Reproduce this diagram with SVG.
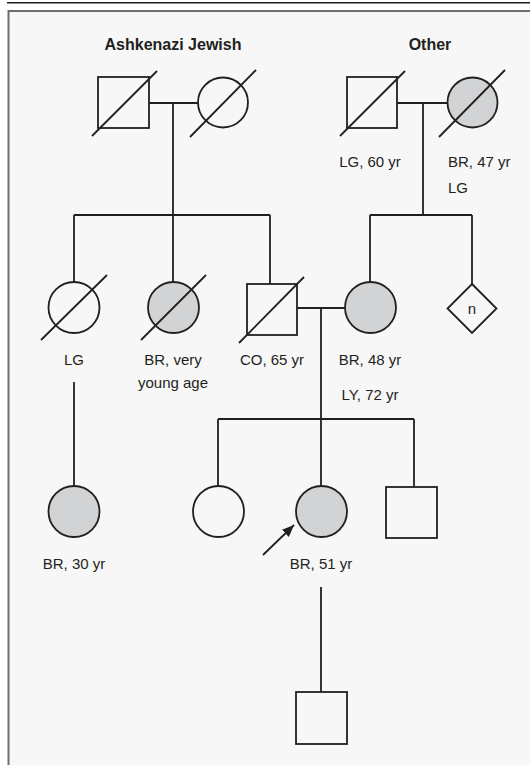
<svg xmlns="http://www.w3.org/2000/svg" width="530" height="765" viewBox="0 0 530 765">
<style>
.s{fill:none;stroke:#231f20;stroke-width:1.8}
.o{fill:#f7f7f7;stroke:#231f20;stroke-width:1.8}
.a{fill:#d1d3d4;stroke:#231f20;stroke-width:1.8}
.d{stroke:#231f20;stroke-width:1.8}
text{font-family:"Liberation Sans",Arial,sans-serif;font-size:15px;fill:#231f20}
.h{font-weight:bold;font-size:16px}
</style>
<defs>
<marker id="ah" viewBox="0 0 12 10" refX="12" refY="5" markerWidth="12" markerHeight="10" markerUnits="userSpaceOnUse" orient="auto">
<path d="M0,0 L12,5 L0,10 Z" fill="#231f20"/>
</marker>
</defs>
<rect width="530" height="765" fill="#ffffff"/>
<line x1="7" y1="2.8" x2="530" y2="2.8" stroke="#231f20" stroke-width="1.5"/>
<rect x="8.5" y="11" width="530" height="770" fill="#f7f7f7" stroke="#6d6e71" stroke-width="2"/>
<text class="h" x="173" y="50" text-anchor="middle">Ashkenazi Jewish</text>
<text class="h" x="430" y="50" text-anchor="middle">Other</text>
<g id="connectors">
<path class="s" d="M149,103 H198 M173,103 V215 M74,215 H270 M74,215 V282 M173,215 V282 M270,215 V284"/>
<path class="s" d="M397,103 H447 M423,103 V215 M370,215 H472 M370,215 V282 M472,215 V284"/>
<path class="s" d="M297,308 H345 M321,308 V419 M218,419 H414 M218,419 V486 M321,419 V486 M414,419 V487"/>
<path class="s" d="M74,382 V486 M321,587 V692"/>
<line class="d" x1="263" y1="555" x2="294" y2="525" marker-end="url(#ah)"/>
</g>
<g id="gf1"><rect class="o" x="98" y="77" width="51" height="51"/><line class="d" x1="92" y1="136" x2="157" y2="71"/></g>
<g id="gm1"><circle class="o" cx="223" cy="102.5" r="25"/><line class="d" x1="190" y1="137" x2="256" y2="70"/></g>
<g id="gf2"><rect class="o" x="347" y="77" width="50" height="51"/><line class="d" x1="340" y1="136" x2="405" y2="71"/><text x="370" y="167" text-anchor="middle">LG, 60 yr</text></g>
<g id="gm2"><circle class="a" cx="472.5" cy="102.5" r="25"/><line class="d" x1="439" y1="137" x2="505" y2="70"/><text x="448" y="167">BR, 47 yr</text><text x="448" y="193">LG</text></g>
<g id="aunt1"><circle class="o" cx="74" cy="307.5" r="25.5"/><line class="d" x1="41" y1="340" x2="107" y2="275"/><text x="74" y="365" text-anchor="middle">LG</text></g>
<g id="aunt2"><circle class="a" cx="173.5" cy="307.5" r="25.5"/><line class="d" x1="141" y1="340" x2="206" y2="275"/><text x="173" y="365" text-anchor="middle">BR, very</text><text x="173" y="388" text-anchor="middle">young age</text></g>
<g id="father"><rect class="o" x="247" y="284" width="50" height="51"/><line class="d" x1="239" y1="343" x2="304" y2="277"/><text x="272" y="365" text-anchor="middle">CO, 65 yr</text></g>
<g id="mother"><circle class="a" cx="370.5" cy="307.5" r="25.5"/><text x="370" y="365" text-anchor="middle">BR, 48 yr</text><text x="370" y="400" text-anchor="middle">LY, 72 yr</text></g>
<g id="sibs"><path class="o" d="M472,284 L496.5,308.5 L472,333 L447.5,308.5 Z"/><text x="472" y="313.5" text-anchor="middle" font-size="14">n</text></g>
<g id="cousin"><circle class="a" cx="74" cy="511.5" r="25.5"/><text x="74" y="569" text-anchor="middle">BR, 30 yr</text></g>
<g id="sister"><circle class="o" cx="218.5" cy="511.5" r="25.5"/></g>
<g id="proband"><circle class="a" cx="321.5" cy="511.5" r="25.5"/><text x="321" y="569" text-anchor="middle">BR, 51 yr</text></g>
<g id="brother"><rect class="o" x="386" y="487" width="51" height="51"/></g>
<g id="son"><rect class="o" x="296" y="692" width="51" height="52"/></g>
</svg>
